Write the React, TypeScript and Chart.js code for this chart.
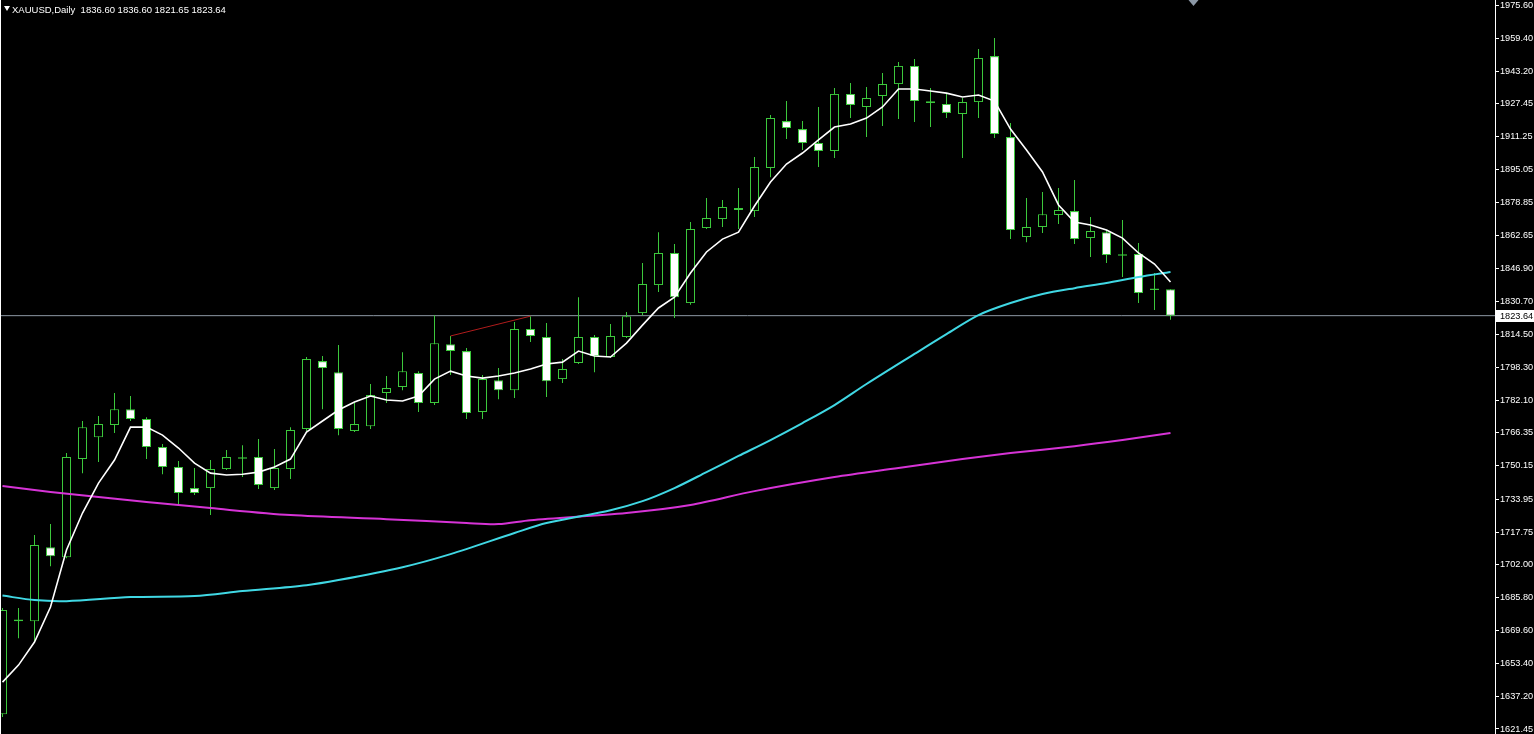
import React, { useEffect, useRef } from 'react';
import { Chart, registerables } from 'chart.js';

Chart.register(...registerables);

// ---- data (XAUUSD daily candles) ----
const opens = [
  1628.7, 1674.2, 1674.2, 1710.4, 1705.5, 1753.5, 1764.2, 1770.1, 1777.9, 1773.1,
  1759.4, 1749.6, 1739.3, 1739.3, 1748.6, 1753.6, 1754.5, 1739.3, 1748.6, 1768.2,
  1801.4, 1796.0, 1767.2, 1769.6, 1785.8, 1788.7, 1795.6, 1780.9, 1809.7, 1806.3,
  1776.5, 1792.1, 1787.2, 1817.1, 1813.2, 1792.6, 1800.5, 1813.2, 1803.4, 1813.2,
  1824.9, 1838.6, 1854.3, 1829.8, 1866.5, 1870.9, 1876.3, 1874.8, 1895.9, 1918.8,
  1914.9, 1908.1, 1904.2, 1932.1, 1925.7, 1931.1, 1936.9, 1945.8, 1927.7, 1927.2,
  1922.3, 1928.1, 1950.6, 1911.0, 1862.1, 1867.0, 1872.9, 1874.8, 1861.6, 1864.5,
  1852.9, 1853.8, 1836.2, 1836.6,
];
const highs = [
  1680.6, 1680.6, 1716.3, 1721.7, 1756.4, 1772.1, 1774.5, 1785.8, 1784.3, 1774.0,
  1760.8, 1752.5, 1749.1, 1753.0, 1757.9, 1760.3, 1763.3, 1758.4, 1769.1, 1803.4,
  1803.9, 1809.3, 1780.9, 1790.2, 1794.1, 1805.8, 1796.5, 1823.9, 1813.7, 1807.8,
  1794.6, 1798.0, 1820.5, 1823.4, 1820.0, 1802.4, 1832.7, 1814.2, 1819.5, 1825.4,
  1849.4, 1864.5, 1858.7, 1869.4, 1881.2, 1880.2, 1886.1, 1901.2, 1921.8, 1928.6,
  1918.8, 1925.7, 1935.0, 1937.4, 1935.5, 1942.3, 1947.7, 1949.2, 1935.0, 1932.5,
  1930.1, 1954.1, 1959.5, 1917.9, 1881.2, 1884.1, 1886.1, 1890.0, 1871.9, 1865.5,
  1870.4, 1859.2, 1844.5, 1836.6,
];
const lows = [
  1627.3, 1665.9, 1663.5, 1701.1, 1705.0, 1746.6, 1752.0, 1766.2, 1772.1, 1753.5,
  1746.1, 1731.0, 1735.9, 1726.1, 1748.1, 1744.7, 1738.8, 1738.3, 1743.7, 1767.2,
  1777.9, 1765.2, 1766.7, 1768.2, 1780.9, 1787.2, 1776.5, 1779.9, 1794.6, 1773.1,
  1773.1, 1782.8, 1783.3, 1810.7, 1783.8, 1790.7, 1800.0, 1796.0, 1802.9, 1812.7,
  1823.9, 1835.2, 1822.5, 1829.0, 1866.0, 1867.0, 1866.0, 1871.9, 1891.4, 1910.0,
  1904.7, 1896.3, 1900.7, 1920.3, 1911.0, 1916.4, 1919.8, 1918.4, 1915.9, 1920.3,
  1900.7, 1920.3, 1910.5, 1861.1, 1859.6, 1864.1, 1868.5, 1858.7, 1852.3, 1849.4,
  1842.5, 1829.8, 1826.4, 1821.65,
];
const closes = [
  1679.6, 1675.0, 1711.4, 1706.0, 1754.5, 1769.1, 1770.6, 1777.9, 1773.1, 1759.4,
  1749.6, 1736.9, 1736.9, 1748.6, 1754.5, 1754.4, 1740.8, 1749.1, 1767.7, 1802.4,
  1798.0, 1768.2, 1770.6, 1784.8, 1788.2, 1796.5, 1780.9, 1810.2, 1806.3, 1776.0,
  1792.6, 1787.2, 1817.1, 1813.7, 1791.6, 1797.5, 1813.2, 1803.9, 1813.7, 1823.4,
  1839.1, 1854.3, 1832.7, 1866.0, 1871.4, 1876.8, 1875.3, 1896.3, 1920.3, 1915.4,
  1908.1, 1904.2, 1932.1, 1926.7, 1930.1, 1936.9, 1945.8, 1928.6, 1928.5, 1922.8,
  1928.1, 1949.7, 1912.5, 1865.5, 1867.0, 1873.3, 1875.3, 1861.1, 1865.0, 1853.3,
  1853.7, 1834.7, 1836.9, 1823.64,
];

// fast moving average (white), one value per candle
const fastMA = [
  1644.4, 1652.7, 1664.0, 1681.1, 1709.0, 1727.1, 1741.7, 1753.0, 1769.1, 1769.1,
  1765.2, 1758.9, 1751.5, 1746.6, 1745.7, 1746.1, 1747.1, 1749.6, 1753.5, 1766.7,
  1772.1, 1777.5, 1781.4, 1784.3, 1782.4, 1781.9, 1784.3, 1792.6, 1796.5, 1794.1,
  1793.1, 1794.1, 1795.6, 1797.5, 1800.0, 1800.9, 1806.3, 1803.9, 1803.4, 1810.2,
  1819.0, 1827.4, 1832.7, 1844.5, 1854.8, 1861.1, 1864.5, 1877.3, 1889.0, 1897.8,
  1903.2, 1909.6, 1915.9, 1917.4, 1920.3, 1925.7, 1934.5, 1934.5, 1933.5, 1932.5,
  1930.6, 1931.6, 1928.6, 1914.9, 1904.7, 1893.9, 1877.8, 1869.4, 1868.0, 1865.5,
  1861.6, 1854.3, 1848.9, 1840.1,
];

// medium moving average (cyan), read at these candle indices
const midMAIndex = [0, 2, 4, 8, 12, 15, 19, 21, 25, 28, 32, 34, 38, 40, 42, 44, 46, 48, 50, 52, 54, 57, 59, 61, 63, 65, 67, 69, 71, 73];
const midMA = [
  1686.7, 1684.5, 1684.0, 1686.0, 1686.5, 1688.9, 1691.8, 1694.3, 1700.6, 1707.0,
  1717.3, 1722.2, 1728.5, 1732.9, 1739.3, 1747.1, 1755.0, 1762.8, 1771.1, 1779.9,
  1790.2, 1804.9, 1814.6, 1823.9, 1829.8, 1834.2, 1837.1, 1839.6, 1842.5, 1845.0,
];

// slow moving average (magenta), read at these candle indices
const slowMAIndex = [0, 3, 6, 9, 13, 18, 24, 29, 31, 33, 39, 43, 47, 52, 56, 60, 63, 67, 70, 73];
const slowMA = [
  1740.3, 1737.4, 1734.9, 1732.5, 1729.5, 1726.1, 1724.1, 1722.2, 1721.7, 1723.6,
  1727.1, 1731.0, 1737.8, 1744.7, 1749.1, 1753.5, 1756.4, 1759.8, 1762.8, 1766.2,
];

// price axis labels (MT4 style, uneven steps)
const yTickValues = [
  1975.60, 1959.40, 1943.20, 1927.45, 1911.25, 1895.05, 1878.85, 1862.65, 1846.90,
  1830.70, 1814.50, 1798.30, 1782.10, 1766.35, 1750.15, 1733.95, 1717.75, 1702.00,
  1685.80, 1669.60, 1653.40, 1637.20, 1621.45,
];

const symbolTitle = 'XAUUSD,Daily';
const lastOHLC = ['1836.60', '1836.60', '1821.65', '1823.64'];
const lastPrice = 1823.64;
const trendStart = 28; // trend line from high of candle 28
const trendEnd = 33; // to high of candle 33
const shiftMarker = 74.4; // chart-shift marker position (bar units)

// ---- layout constants ----
const W = 1534;
const H = 734;
const PAD = 7; // chart.js auto padding for edge tick labels (half label height + tick padding)
const AXIS_W = 39;
const Y_MIN = 1619.004;
const Y_MAX = 1978.046;
const X_MIN = -0.15625;
const X_MAX = 93.28125;

const GREEN = '#3cc83c';
const FONT = '"Liberation Sans", Arial, sans-serif';

export default function App() {
  const ref = useRef<HTMLCanvasElement | null>(null);

  useEffect(() => {
    const canvas = ref.current;
    if (!canvas) return;

    const bodyData = opens.map((o, i) => ({ x: i, y: [o, closes[i]] }));
    const wickData = opens.map((_, i) => ({ x: i, y: [lows[i], highs[i]] }));
    const bodyFill = opens.map((o, i) => (closes[i] >= o ? '#000000' : '#ffffff'));

    const extras = {
      id: 'extras',
      afterDraw(chart: any) {
        const { ctx, chartArea, scales } = chart;
        const y = Math.round(scales.y.getPixelForValue(lastPrice));
        ctx.save();
        // left frame line
        ctx.fillStyle = '#ffffff';
        ctx.fillRect(0, chartArea.top, 1, chartArea.bottom - chartArea.top);
        // chart shift marker
        const tx = Math.round(scales.x.getPixelForValue(shiftMarker)) + 0.5;
        ctx.fillStyle = '#8c98a6';
        ctx.beginPath();
        ctx.moveTo(tx - 5, chartArea.top);
        ctx.lineTo(tx + 5, chartArea.top);
        ctx.lineTo(tx, chartArea.top + 6);
        ctx.closePath();
        ctx.fill();
        // last price label
        ctx.fillStyle = '#ffffff';
        ctx.fillRect(chartArea.right + 1, y - 6, chart.width - chartArea.right - 1, 12);
        ctx.fillStyle = '#000000';
        ctx.font = `9.2px ${FONT}`;
        ctx.textBaseline = 'middle';
        ctx.textAlign = 'left';
        ctx.fillText(lastPrice.toFixed(2), chartArea.right + 5, y + 0.5);
        ctx.restore();
      },
    };

    const chart = new Chart(canvas, {
      type: 'bar',
      data: {
        datasets: [
          {
            type: 'line',
            label: 'last',
            data: [{ x: X_MIN, y: lastPrice }, { x: X_MAX, y: lastPrice }],
            borderColor: '#8e98a4',
            borderWidth: 1,
            pointRadius: 0,
            order: 20,
          },
          {
            type: 'bar',
            label: 'wicks',
            data: wickData,
            backgroundColor: GREEN,
            borderWidth: 0,
            barThickness: 1,
            grouped: false,
            inflateAmount: 0,
            order: 12,
          },
          {
            type: 'bar',
            label: 'bodies',
            data: bodyData,
            backgroundColor: bodyFill,
            borderColor: GREEN,
            borderWidth: 1,
            borderSkipped: false,
            barThickness: 9,
            grouped: false,
            inflateAmount: 0,
            order: 11,
          },
          {
            type: 'line',
            label: 'slow',
            data: slowMAIndex.map((x, k) => ({ x, y: slowMA[k] })),
            borderColor: '#d633d6',
            borderWidth: 2,
            pointRadius: 0,
            tension: 0.3,
            order: 5,
          },
          {
            type: 'line',
            label: 'mid',
            data: midMAIndex.map((x, k) => ({ x, y: midMA[k] })),
            borderColor: '#40d8e4',
            borderWidth: 2,
            pointRadius: 0,
            tension: 0.3,
            order: 4,
          },
          {
            type: 'line',
            label: 'trend',
            data: [
              { x: trendStart, y: highs[trendStart] },
              { x: trendEnd, y: highs[trendEnd] },
            ],
            borderColor: '#b01c1c',
            borderWidth: 1,
            pointRadius: 0,
            order: 3,
          },
          {
            type: 'line',
            label: 'fast',
            data: fastMA.map((v, i) => ({ x: i, y: v })),
            borderColor: '#ffffff',
            borderWidth: 1.6,
            pointRadius: 0,
            order: 1,
          },
        ] as any,
      },
      options: {
        responsive: false,
        animation: false,
        events: [],
        layout: { padding: 0, autoPadding: false },
        plugins: { legend: { display: false }, tooltip: { enabled: false }, title: { display: false } },
        scales: {
          x: {
            type: 'linear',
            display: false,
            min: X_MIN,
            max: X_MAX,
            offset: false,
            grid: { display: false },
          },
          y: {
            type: 'linear',
            position: 'right',
            min: Y_MIN,
            max: Y_MAX,
            afterBuildTicks: (s: any) => {
              s.ticks = yTickValues.map((v) => ({ value: v }));
            },
            afterFit: (s: any) => {
              s.width = AXIS_W;
            },
            ticks: {
              autoSkip: false,
              padding: 1,
              color: '#ffffff',
              font: { family: FONT, size: 9.2, lineHeight: '12px' },
              callback: (v: any) => Number(v).toFixed(2),
            },
            grid: {
              display: true,
              drawOnChartArea: false,
              drawTicks: true,
              tickLength: 4,
              color: '#ffffff',
              lineWidth: 1,
            },
            border: { display: true, color: '#ffffff', width: 1 },
          },
        },
      } as any,
      plugins: [extras],
    });

    return () => chart.destroy();
  }, []);

  return (
    <div
      style={{
        position: 'fixed',
        left: 0,
        top: 0,
        width: W,
        height: H,
        overflow: 'hidden',
        background: '#000000',
      }}
    >
      <canvas
        ref={ref}
        width={W}
        height={H + 2 * PAD}
        style={{ position: 'absolute', left: 0, top: -PAD, width: W, height: H + 2 * PAD }}
      />
      <div
        style={{
          position: 'absolute',
          left: 4,
          top: 6,
          width: 0,
          height: 0,
          borderLeft: '3px solid transparent',
          borderRight: '3px solid transparent',
          borderTop: '5px solid #ffffff',
        }}
      />
      <div
        style={{
          position: 'absolute',
          left: 12,
          top: 4,
          color: '#ffffff',
          fontFamily: FONT,
          fontSize: '9.5px',
          lineHeight: '12px',
          whiteSpace: 'pre',
        }}
      >
        {`${symbolTitle}  ${lastOHLC.join(' ')}`}
      </div>
    </div>
  );
}
